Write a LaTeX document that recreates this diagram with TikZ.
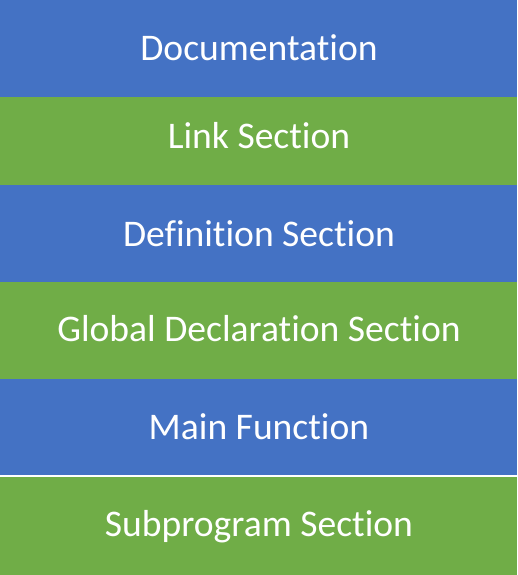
\documentclass[tikz,border=0pt]{standalone}
\usepackage{fontspec}
\setmainfont[Ligatures={NoCommon,NoContextual},RawFeature={-liga;-clig}]{Carlito}
\definecolor{bandblue}{HTML}{4472C4}
\definecolor{bandgreen}{HTML}{70AD47}
\begin{document}
\begin{tikzpicture}[x=1pt,y=-1pt,
  band/.style={draw=none,minimum width=517pt,inner sep=0pt,anchor=north west},
  blueband/.style={band,fill=bandblue},
  greenband/.style={band,fill=bandgreen},
  label/.style={anchor=base,inner sep=0pt,text=white,font=\fontsize{37.6}{40}\selectfont}]
\useasboundingbox[fill=white] (0,0) rectangle (517,575);
\node[blueband,minimum height=97pt] (doc) at (0,0) {};
\node[greenband,minimum height=88pt] (link) at (0,97) {};
\node[blueband,minimum height=97pt] (def) at (0,185) {};
\node[greenband,minimum height=97pt] (glob) at (0,282) {};
\node[blueband,minimum height=96pt] (main) at (0,379) {};
\node[greenband,minimum height=98pt] (sub) at (0,477) {};
\node[label] (tdoc) at (259,61) {Documentation};
\node[label] (tlink) at (259,148) {Link Section};
\node[label] (tdef) at (259,246) {Definition Section};
\node[label] (tglob) at (259,341.5) {Global Declaration Section};
\node[label] (tmain) at (259,439.5) {Main Function};
\node[label] (tsub) at (259,536.5) {Subprogram Section};
\end{tikzpicture}
\end{document}
